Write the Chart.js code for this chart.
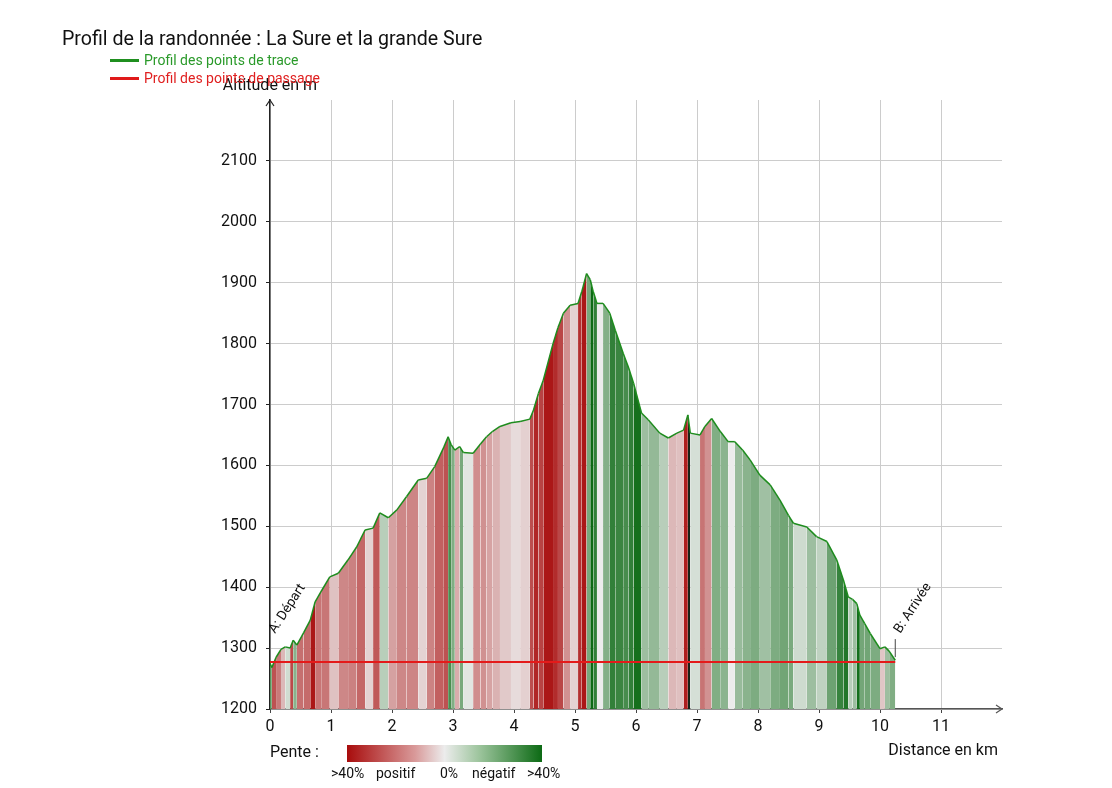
<!DOCTYPE html>
<html lang="fr">
<head>
<meta charset="utf-8">
<title>Profil de la randonnée</title>
<script src="https://cdn.jsdelivr.net/npm/chart.js@4.4.1/dist/chart.umd.min.js"></script>
<style>
    body { margin: 0; background: #fff; font-family: Roboto, sans-serif; }
    #wrap { position: relative; width: 1112px; height: 788px; overflow: hidden; }
    #profil { position: absolute; left: 0; top: 0; }
    .txt { position: absolute; white-space: nowrap; line-height: 1; }
    .trait { position: absolute; height: 3px; width: 29px; }
    #barre {
        position: absolute; left: 347px; top: 745px; width: 195px; height: 17px;
        background: linear-gradient(to right, #a80c0c, #d99a9a 35%, #ececec 50%, #9cc49c 68%, #0c6a14);
    }
</style>
</head>
<body>
<div id="wrap">
    <canvas id="profil" width="1112" height="788"></canvas>

    <div class="txt" style="left:62px; top:29px; font-size:19.6px; color:#111;">Profil de la randonnée : La Sure et la grande Sure</div>

    <div class="trait" style="left:110px; top:59px; background:#1f8f1f;"></div>
    <div class="txt" style="left:144px; top:53px; font-size:14px; color:#2a9a2a;">Profil des points de trace</div>
    <div class="trait" style="left:110px; top:77px; background:#e01a1a;"></div>
    <div class="txt" style="left:144px; top:71px; font-size:14px; color:#e02020;">Profil des points de passage</div>

    <div class="txt" style="left:270px; top:744px; font-size:16px; color:#111;">Pente :</div>
    <div id="barre"></div>
    <div class="txt" style="left:331px; top:766px; font-size:14px; color:#111;">&gt;40%</div>
    <div class="txt" style="left:376px; top:766px; font-size:14px; color:#111;">positif</div>
    <div class="txt" style="left:440px; top:766px; font-size:14px; color:#111;">0%</div>
    <div class="txt" style="left:472px; top:766px; font-size:14px; color:#111;">négatif</div>
    <div class="txt" style="left:527px; top:766px; font-size:14px; color:#111;">&gt;40%</div>
</div>

<script>
// profil des points de trace (km / m)
const distances = [
    0.00, 0.03, 0.10, 0.18, 0.25, 0.33, 0.38, 0.44, 0.55, 0.66,
    0.74, 0.85, 0.98, 1.12, 1.28, 1.42, 1.56, 1.69, 1.80, 1.94,
    2.08, 2.24, 2.43, 2.57, 2.70, 2.85, 2.92, 2.97, 3.03, 3.11,
    3.17, 3.33, 3.45, 3.55, 3.65, 3.77, 3.95, 4.10, 4.26, 4.32,
    4.40, 4.48, 4.56, 4.64, 4.72, 4.81, 4.92, 5.05, 5.11, 5.19,
    5.25, 5.30, 5.36, 5.46, 5.57, 5.66, 5.79, 5.88, 5.96, 6.09,
    6.20, 6.39, 6.53, 6.67, 6.78, 6.85, 6.89, 7.05, 7.13, 7.24,
    7.38, 7.51, 7.62, 7.75, 7.87, 8.03, 8.20, 8.36, 8.50, 8.58,
    8.80, 8.96, 9.13, 9.29, 9.40, 9.48, 9.55, 9.62, 9.67, 9.75,
    9.84, 10.00, 10.08, 10.15, 10.25
];
const altitudes = [
    1275, 1268, 1285, 1298, 1302, 1300, 1313, 1305, 1325, 1346,
    1376, 1395, 1417, 1423, 1445, 1466, 1494, 1497, 1522, 1514,
    1527, 1549, 1576, 1579, 1598, 1630, 1647, 1634, 1625, 1631,
    1621, 1620, 1635, 1647, 1656, 1664, 1670, 1672, 1676, 1691,
    1718, 1740, 1770, 1800, 1826, 1850, 1863, 1866, 1885, 1915,
    1905, 1885, 1866, 1866, 1850, 1822, 1784, 1760, 1735, 1686,
    1675, 1653, 1645, 1653, 1658, 1683, 1653, 1650, 1664, 1677,
    1656, 1639, 1639, 1625, 1609, 1584, 1568, 1543, 1518, 1505,
    1499, 1483, 1475, 1445, 1412, 1384, 1380, 1373, 1354, 1340,
    1324, 1299, 1302, 1295, 1280
];

// profil des points de passage
const passageDist = [0, 10.25];
const passageAlt = [1277, 1277];
const passageNoms = ['A: Départ', 'B: Arrivée'];

function melange(a, b, t) {
    return a.map((v, i) => Math.round(v + (b[i] - v) * t));
}

// couleur de la pente en %, saturée à 40 %
function couleurPente(pente) {
    const abs = Math.abs(pente);
    const t = Math.pow(Math.min(abs / 40, 1), 0.75);
    const fin = pente > 0 ? [168, 12, 12] : [12, 106, 20];
    let c = melange([236, 236, 236], fin, t);
    if (abs > 40) {
        c = melange(c, [25, 25, 25], Math.min((abs - 40) / 40, 1));
    }
    return `rgb(${c[0]},${c[1]},${c[2]})`;
}

const pointsTrace = distances.map((d, i) => ({ x: d, y: altitudes[i] }));
const pointsPassage = passageDist.map((d, i) => ({ x: d, y: passageAlt[i] }));

const decor = {
    id: 'decor',
    afterDraw(chart) {
        const { ctx, chartArea: area, scales: { x, y } } = chart;
        ctx.save();

        // flèches des axes
        ctx.strokeStyle = '#222';
        ctx.lineWidth = 1.2;
        ctx.beginPath();
        ctx.moveTo(area.left - 4, area.top + 6);
        ctx.lineTo(area.left, area.top);
        ctx.lineTo(area.left + 4, area.top + 6);
        ctx.stroke();
        ctx.strokeStyle = '#555';
        ctx.beginPath();
        ctx.moveTo(area.right - 6, area.bottom - 4);
        ctx.lineTo(area.right, area.bottom);
        ctx.lineTo(area.right - 6, area.bottom + 4);
        ctx.stroke();

        // titres des axes
        ctx.fillStyle = '#111';
        ctx.font = '16px Roboto';
        ctx.textBaseline = 'middle';
        ctx.textAlign = 'center';
        ctx.fillText('Altitude en m', area.left, 86);
        ctx.textAlign = 'right';
        ctx.fillText('Distance en km', 998, 751);

        // noms des points de passage
        ctx.font = '13.5px Roboto';
        ctx.textAlign = 'left';
        ctx.textBaseline = 'alphabetic';
        ctx.strokeStyle = '#444';
        ctx.lineWidth = 1;
        passageDist.forEach((d, i) => {
            const px = x.getPixelForValue(d);
            const py = y.getPixelForValue(passageAlt[i]);
            if (i > 0) {
                ctx.beginPath();
                ctx.moveTo(px, py - 5);
                ctx.lineTo(px, py - 23);
                ctx.stroke();
            }
            ctx.save();
            ctx.translate(px + 5, py - 28);
            ctx.rotate(-57 * Math.PI / 180);
            ctx.fillText(passageNoms[i], 0, 0);
            ctx.restore();
        });
        ctx.restore();
    }
};

Chart.defaults.font.family = 'Roboto';
Chart.defaults.color = '#111';

new Chart(document.getElementById('profil'), {
    type: 'line',
    data: {
        datasets: [
            {
                label: 'Profil des points de passage',
                data: pointsPassage,
                borderColor: '#e41a1a',
                borderWidth: 2,
                pointRadius: 0,
                fill: false
            },
            {
                label: 'Profil des points de trace',
                data: pointsTrace,
                borderColor: '#1e8c1e',
                borderWidth: 1.5,
                pointRadius: 0,
                tension: 0,
                fill: 'start',
                backgroundColor: '#ececec',
                segment: {
                    backgroundColor: c => {
                        const p0 = c.p0.parsed, p1 = c.p1.parsed;
                        return couleurPente((p1.y - p0.y) / ((p1.x - p0.x) * 1000) * 100);
                    }
                }
            }
        ]
    },
    options: {
        responsive: false,
        animation: false,
        layout: { padding: { left: 200, top: 100, right: 110, bottom: 49 } },
        plugins: {
            legend: { display: false },
            tooltip: { enabled: false }
        },
        scales: {
            x: {
                type: 'linear',
                min: 0,
                max: 12,
                afterFit: s => { s.height = 30; },
                ticks: {
                    stepSize: 1,
                    padding: 4,
                    font: { size: 16 },
                    color: '#111',
                    callback: v => (v === 12 ? '' : v)
                },
                grid: {
                    color: c => (c.tick && c.tick.value === 12 ? 'rgba(0,0,0,0)' : '#cccccc'),
                    tickColor: c => (c.tick && c.tick.value === 12 ? 'rgba(0,0,0,0)' : '#444'),
                    tickLength: 4
                },
                border: { color: '#555', width: 1.5 }
            },
            y: {
                min: 1200,
                max: 2200,
                afterFit: s => { s.width = 70; },
                ticks: {
                    stepSize: 100,
                    padding: 9,
                    font: { size: 16 },
                    color: '#111',
                    callback: v => (v === 2200 ? '' : v)
                },
                grid: {
                    color: c => (c.tick && c.tick.value === 2200 ? 'rgba(0,0,0,0)' : '#cccccc'),
                    tickColor: c => (c.tick && c.tick.value === 2200 ? 'rgba(0,0,0,0)' : '#222'),
                    tickLength: 4
                },
                border: { color: '#222', width: 1.5 }
            }
        }
    },
    plugins: [decor]
});
</script>
</body>
</html>
